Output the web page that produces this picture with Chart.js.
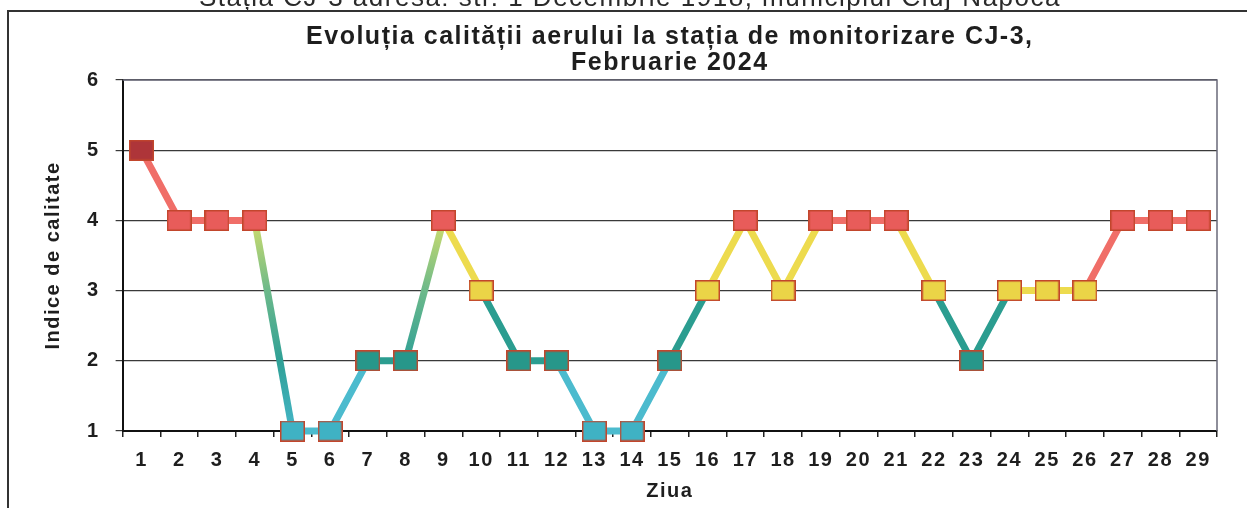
<!DOCTYPE html>
<html>
<head>
<meta charset="utf-8">
<script src="https://cdn.jsdelivr.net/npm/chart.js@4/dist/chart.umd.min.js"></script>
<style>
html, body { margin: 0; padding: 0; background: #fff; }
#wrap { width: 1247px; height: 508px; }
</style>
</head>
<body>
<div id="wrap"><canvas id="chart"></canvas></div>
<script>
"use strict"

const days = ["1", "2", "3", "4", "5", "6", "7", "8", "9", "10", "11", "12", "13", "14", "15",
    "16", "17", "18", "19", "20", "21", "22", "23", "24", "25", "26", "27", "28", "29"];
const airIndex = [5, 4, 4, 4, 1, 1, 2, 2, 4, 3, 2, 2, 1, 1, 2, 3, 4, 3, 4, 4, 4, 3, 2, 3, 3, 3, 4, 4, 4];
const yTicks = [1, 2, 3, 4, 5, 6];

const pageHeader = "Stația CJ-3 adresa: str. 1 Decembrie 1918, municipiul Cluj-Napoca";
const chartTitle = ["Evoluția calității aerului la stația de monitorizare CJ-3,", "Februarie 2024"];
const yTitle = "Indice de calitate";
const xTitle = "Ziua";

const fontFamily = "'Liberation Sans', Arial, sans-serif";
const textColor = "#1e1e1e";
// the scanned original is a bit stretched sideways
const spacing = "1.5px";

// marker fill per index level
const markerColors = { 1: "#3fb2c4", 2: "#27978a", 3: "#ebd447", 4: "#e85c5a", 5: "#ae3539" };
// line colour per level (flat / one step segments use the lower level)
const lineColors = { 1: "#4cbbce", 2: "#2b9d90", 3: "#eddb4e", 4: "#f06e68" };
// colours used along the big jumps
const jumpColors = { 1: "#45b6c8", 2: "#2fa096", 3: "#6cb98a", 4: "#cfdd6c" };
// segment 26 -> 27 is drawn red in the original
const lineOverride = { 25: 4 };

function makeMarker(fill) {
    const c = document.createElement("canvas");
    c.width = 25;
    c.height = 21;
    const g = c.getContext("2d");
    g.fillStyle = fill;
    g.fillRect(0, 0, 25, 21);
    g.strokeStyle = "#c2462c";
    g.lineWidth = 1.5;
    g.strokeRect(0.75, 0.75, 23.5, 19.5);
    return c;
}

const markers = {};
for (const level in markerColors) {
    markers[level] = makeMarker(markerColors[level]);
}

function segmentColor(ctx) {
    const a = airIndex[ctx.p0DataIndex];
    const b = airIndex[ctx.p1DataIndex];
    if (Math.abs(a - b) > 1) {
        const grad = ctx.chart.ctx.createLinearGradient(ctx.p0.x, ctx.p0.y, ctx.p1.x, ctx.p1.y);
        const steps = Math.abs(a - b);
        for (let i = 0; i <= steps; i++) {
            const level = a + (b > a ? i : -i);
            grad.addColorStop(i / steps, jumpColors[level]);
        }
        return grad;
    }
    const level = lineOverride[ctx.p0DataIndex] || Math.min(a, b);
    return lineColors[level];
}

const framePlugin = {
    id: "frame",
    beforeLayout(chart) {
        chart.ctx.letterSpacing = spacing;
    },
    beforeDraw(chart) {
        const g = chart.ctx;
        g.letterSpacing = spacing;
        g.save();
        // header line of the page, cut at the top
        g.fillStyle = "#2a2a2a";
        g.font = "26px " + fontFamily;
        g.textAlign = "center";
        g.textBaseline = "alphabetic";
        g.fillText(pageHeader, 630, 6);
        // outer frame of the figure
        g.strokeStyle = "#333";
        g.lineWidth = 2;
        g.beginPath();
        g.moveTo(1247, 11);
        g.lineTo(8, 11);
        g.lineTo(8, 508);
        g.stroke();
        g.restore();
    },
    beforeDatasetsDraw(chart) {
        const a = chart.chartArea;
        const g = chart.ctx;
        g.save();
        g.strokeStyle = "#6a6a7a";
        g.lineWidth = 1.5;
        g.beginPath();
        g.moveTo(a.left, a.top);
        g.lineTo(a.right, a.top);
        g.lineTo(a.right, a.bottom);
        g.stroke();
        g.restore();
    }
};

const config = {
    type: "line",
    data: {
        labels: days,
        datasets: [
            {
                label: yTitle,
                data: airIndex,
                borderWidth: 7,
                borderColor: lineColors[4],
                segment: { borderColor: segmentColor },
                pointStyle: airIndex.map(v => markers[v]),
                pointRadius: 12,
                tension: 0,
                clip: false,
            },
        ]
    },
    options: {
        responsive: true,
        maintainAspectRatio: false,
        animation: false,
        layout: { padding: { top: 24, left: 35, right: 30, bottom: 5 } },
        plugins: {
            legend: { display: false },
            tooltip: { enabled: false },
            title: {
                display: true,
                text: chartTitle,
                fullSize: false,
                color: textColor,
                font: { family: fontFamily, size: 25, weight: "bold", lineHeight: 1.05 },
                padding: { top: 0, bottom: 3.5 },
            },
        },
        scales: {
            x: {
                offset: true,
                grid: { offset: true, drawOnChartArea: false, tickLength: 6, color: "#222", lineWidth: 1.5 },
                border: { color: "#111", width: 2 },
                ticks: {
                    color: textColor,
                    font: { family: fontFamily, size: 20, weight: "bold" },
                    padding: 11,
                    maxRotation: 0,
                    autoSkip: false,
                },
                title: {
                    display: true,
                    text: xTitle,
                    color: textColor,
                    font: { family: fontFamily, size: 20, weight: "bold" },
                    padding: { top: -4, bottom: 0 },
                },
            },
            y: {
                min: yTicks[0],
                max: yTicks[yTicks.length - 1],
                afterBuildTicks: axis => { axis.ticks = yTicks.map(v => ({ value: v })); },
                grid: { color: "#3a3a3a", lineWidth: 1.2, tickLength: 7 },
                border: { color: "#111", width: 2 },
                ticks: {
                    color: textColor,
                    font: { family: fontFamily, size: 20, weight: "bold" },
                    padding: 16,
                },
                title: {
                    display: true,
                    text: yTitle,
                    color: textColor,
                    font: { family: fontFamily, size: 20, weight: "bold" },
                    padding: { top: 6, bottom: 6 },
                },
            },
        },
    },
    plugins: [framePlugin],
};

const myChart = new Chart(document.getElementById("chart"), config);
</script>
</body>
</html>
